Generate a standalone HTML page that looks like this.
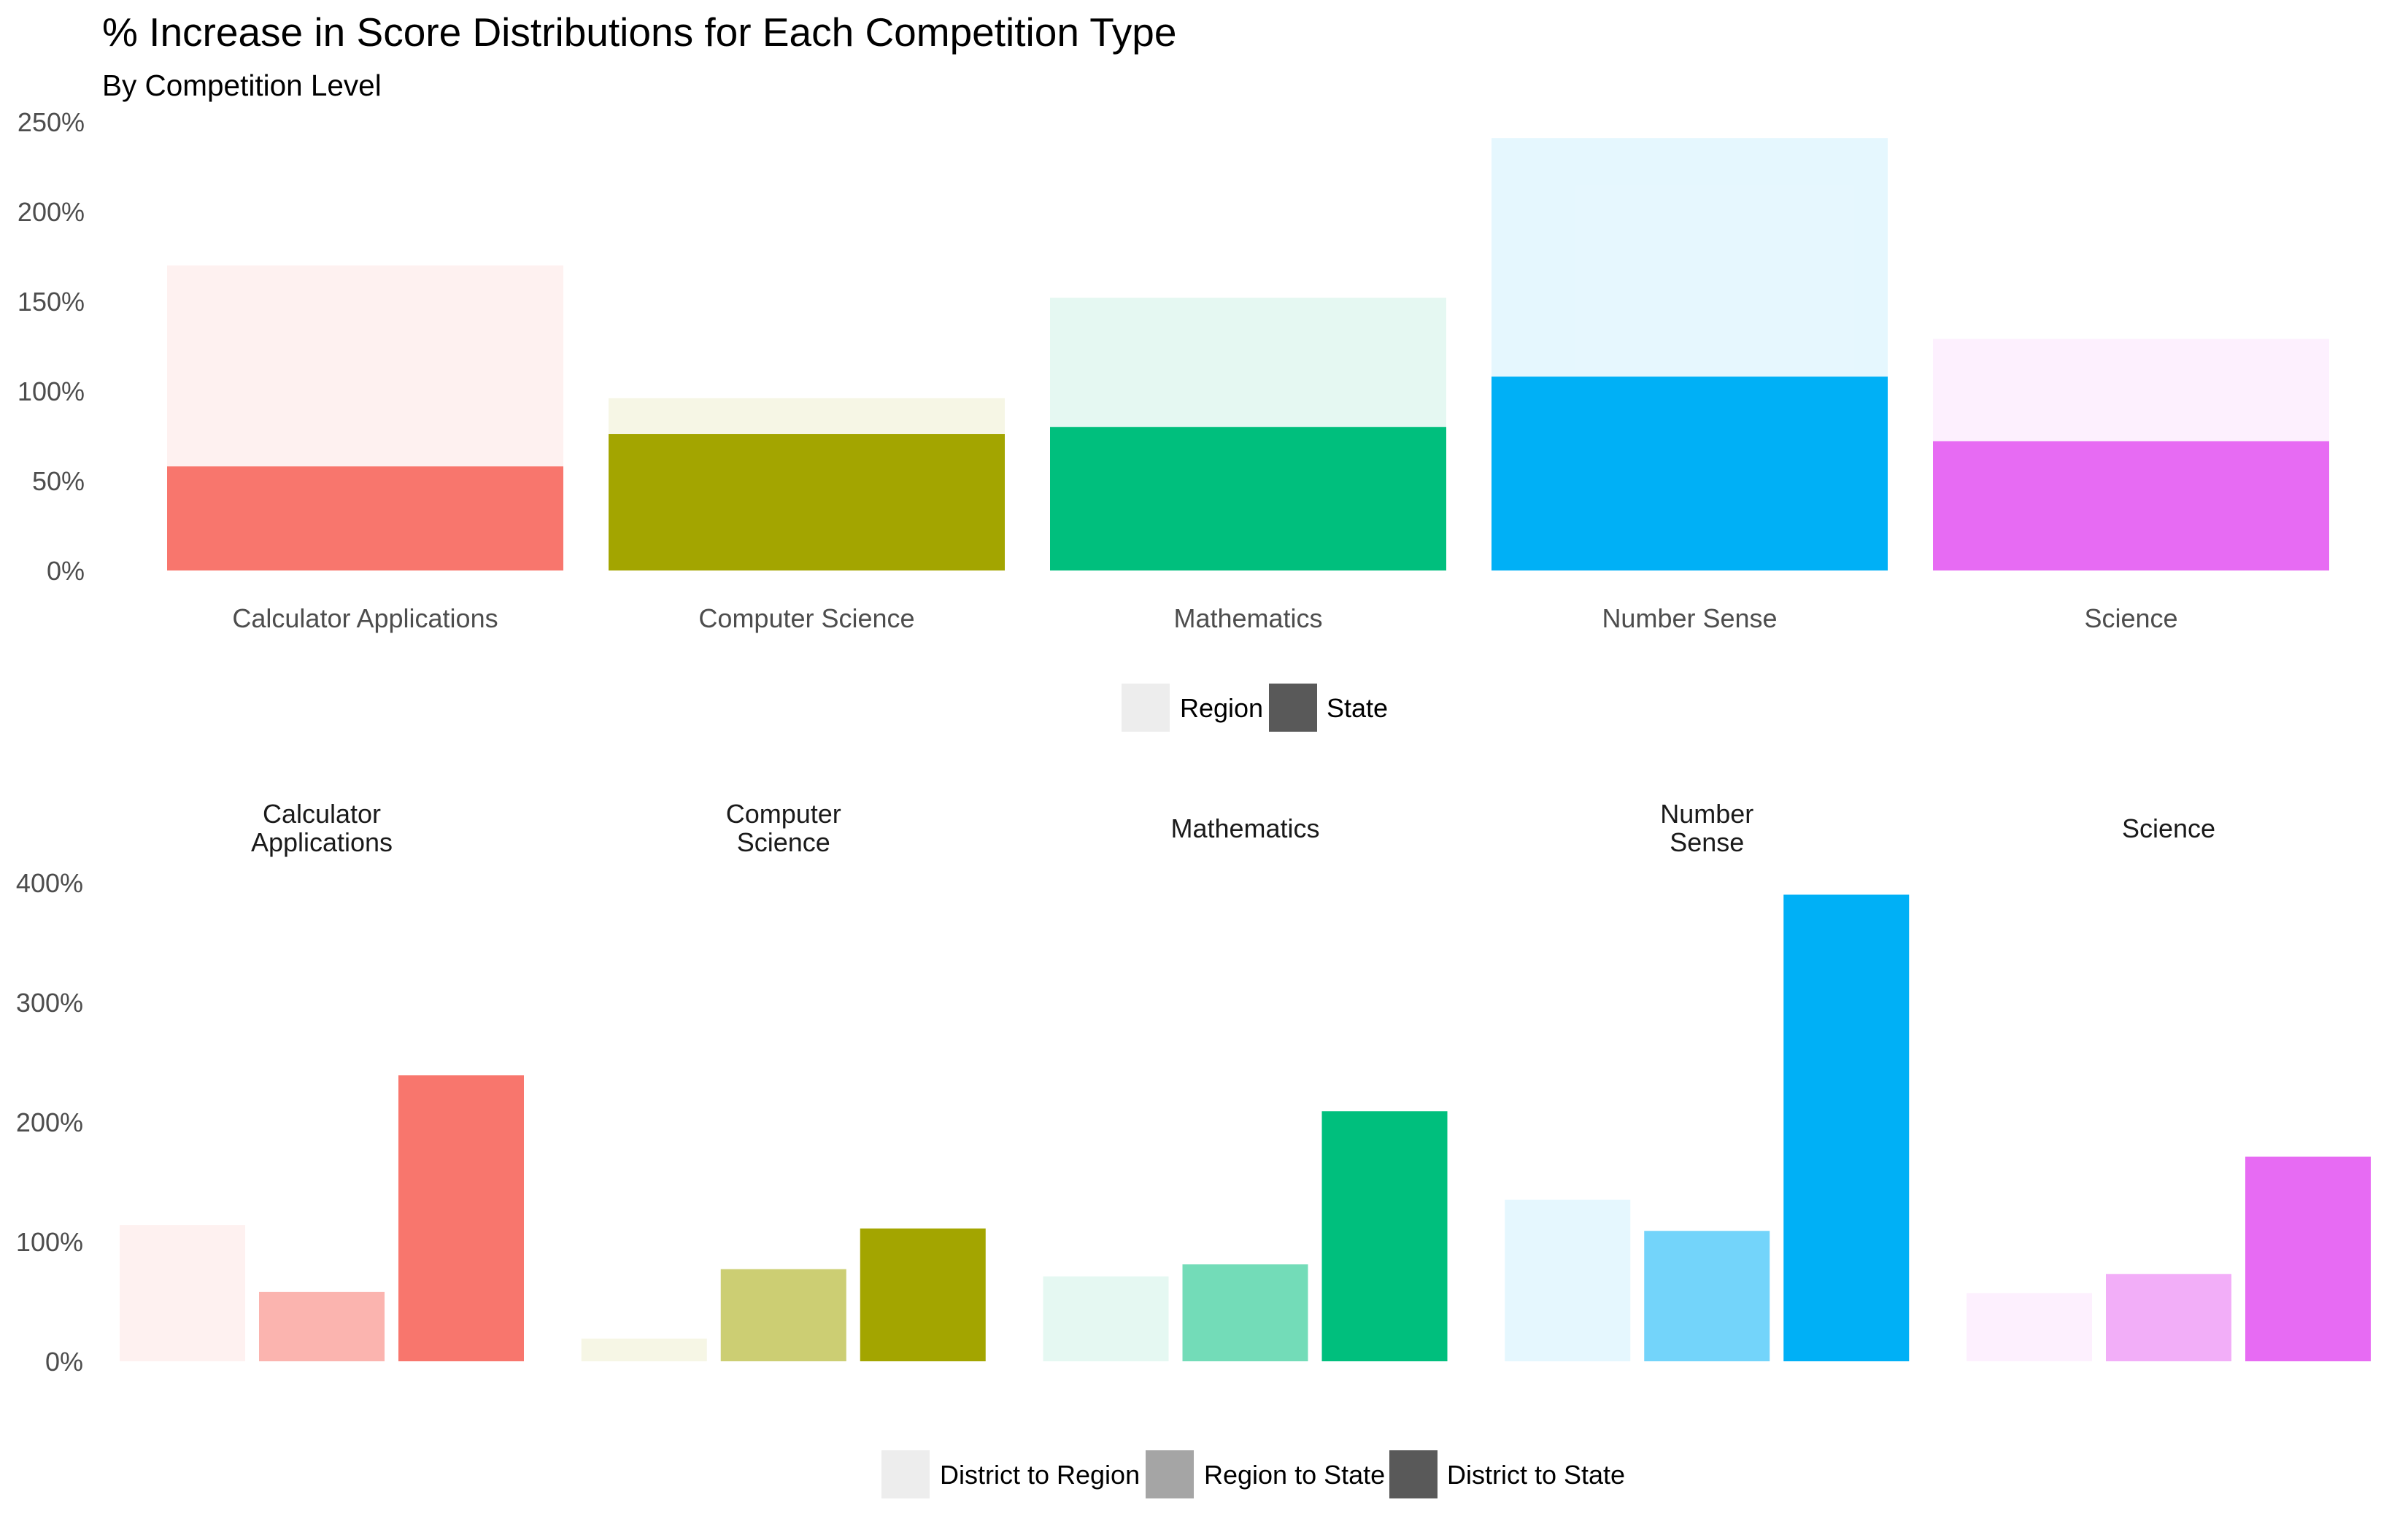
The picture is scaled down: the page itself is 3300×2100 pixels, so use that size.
<!DOCTYPE html>
<html><head><meta charset="utf-8">
<style>
html,body{margin:0;padding:0;background:#fff;}
svg{display:block;font-family:"Liberation Sans",Arial,sans-serif;}
</style></head>
<body>
<svg id="chart" width="3300" height="2100" viewBox="0 0 3300 2100">
<text x="140" y="63" font-size="55" fill="#000">% Increase in Score Distributions for Each Competition Type</text>
<text x="140" y="131" font-size="40.5" fill="#000">By Competition Level</text>
<g id="topPanel"></g>
<g id="bottomPanel"></g>
<g>
<rect x="1537" y="937" width="66" height="66" fill="#ededed"/>
<text x="1617" y="983" font-size="36" fill="#000">Region</text>
<rect x="1739" y="937" width="66" height="66" fill="#595959"/>
<text x="1818" y="983" font-size="36" fill="#000">State</text>
</g>
<g>
<rect x="1208" y="1988" width="66" height="66" fill="#ededed"/>
<text x="1288" y="2034" font-size="36" fill="#000">District to Region</text>
<rect x="1570" y="1988" width="66" height="66" fill="#a5a5a5"/>
<text x="1650" y="2034" font-size="36" fill="#000">Region to State</text>
<rect x="1904" y="1988" width="66" height="66" fill="#595959"/>
<text x="1983" y="2034" font-size="36" fill="#000">District to State</text>
</g>
</svg>
<script>
const categories = ["Calculator Applications","Computer Science","Mathematics","Number Sense","Science"];
const stripLabels = [["Calculator","Applications"],["Computer","Science"],["Mathematics"],["Number","Sense"],["Science"]];
const colors = ["#F8766D","#A3A500","#00BF7D","#00B0F6","#E76BF3"];
const regionValues = [170, 96, 152, 241, 129];
const stateValues = [58, 76, 80, 108, 72];
const topTicks = [0, 50, 100, 150, 200, 250];
const districtToRegion = [114, 19, 71, 135, 57];
const regionToState = [58, 77, 81, 109, 73];
const districtToState = [239, 111, 209, 390, 171];
const bottomTicks = [0, 100, 200, 300, 400];

const SVGNS = "http://www.w3.org/2000/svg";
function mk(parent, tag, attrs, txt){
  const e = document.createElementNS(SVGNS, tag);
  for (const k in attrs) e.setAttribute(k, attrs[k]);
  if (txt !== undefined) e.textContent = txt;
  parent.appendChild(e); return e;
}
const topY = v => 782 - v * 2.46;
const topX = i => 229 + i * 605;
const topW = 543;
const topG = document.getElementById("topPanel");
topTicks.forEach(t => {
  const e = mk(topG, "text", {x:116, y:topY(t)+13, "font-size":36, fill:"#4d4d4d", "text-anchor":"end"}, t + "%");
  
  
});
categories.forEach((c, i) => {
  const r = mk(topG, "rect", {x:topX(i), y:topY(regionValues[i]), width:topW, height:topY(0)-topY(regionValues[i]), fill:colors[i], "fill-opacity":0.1});
  
  
  const s = mk(topG, "rect", {x:topX(i), y:topY(stateValues[i]), width:topW, height:topY(0)-topY(stateValues[i]), fill:colors[i]});
  
  
  const l = mk(topG, "text", {x:topX(i)+topW/2, y:860, "font-size":36, fill:"#4d4d4d", "text-anchor":"middle"}, c);
  
  
});
const botY = v => 1866 - v * 1.64;
const panelX = i => 164 + i * 632.75;
const barStep = 191, barW = 172;
const botG = document.getElementById("bottomPanel");
bottomTicks.forEach(t => {
  const e = mk(botG, "text", {x:114, y:botY(t)+13, "font-size":36, fill:"#4d4d4d", "text-anchor":"end"}, t + "%");
  
  
});
const series = [districtToRegion, regionToState, districtToState];
const opac = [0.1, 0.55, 1];
const snames = ['bar-district-to-region','bar-region-to-state','bar-district-to-state'];
categories.forEach((c, i) => {
  series.forEach((arr, j) => {
    const b = mk(botG, "rect", {x:panelX(i)+j*barStep, y:botY(arr[i]), width:barW, height:botY(0)-botY(arr[i]), fill:colors[i], "fill-opacity":opac[j]});
    
    
  });
  const cx = panelX(i) + barStep + barW/2;
  const lines = stripLabels[i];
  const ys = lines.length === 2 ? [1128, 1167] : [1148];
  lines.forEach((ln, k) => {
    const t = mk(botG, "text", {x:cx, y:ys[k], "font-size":36, fill:"#1a1a1a", "text-anchor":"middle"}, ln);
    
    
  });
});
</script>
</body></html>
